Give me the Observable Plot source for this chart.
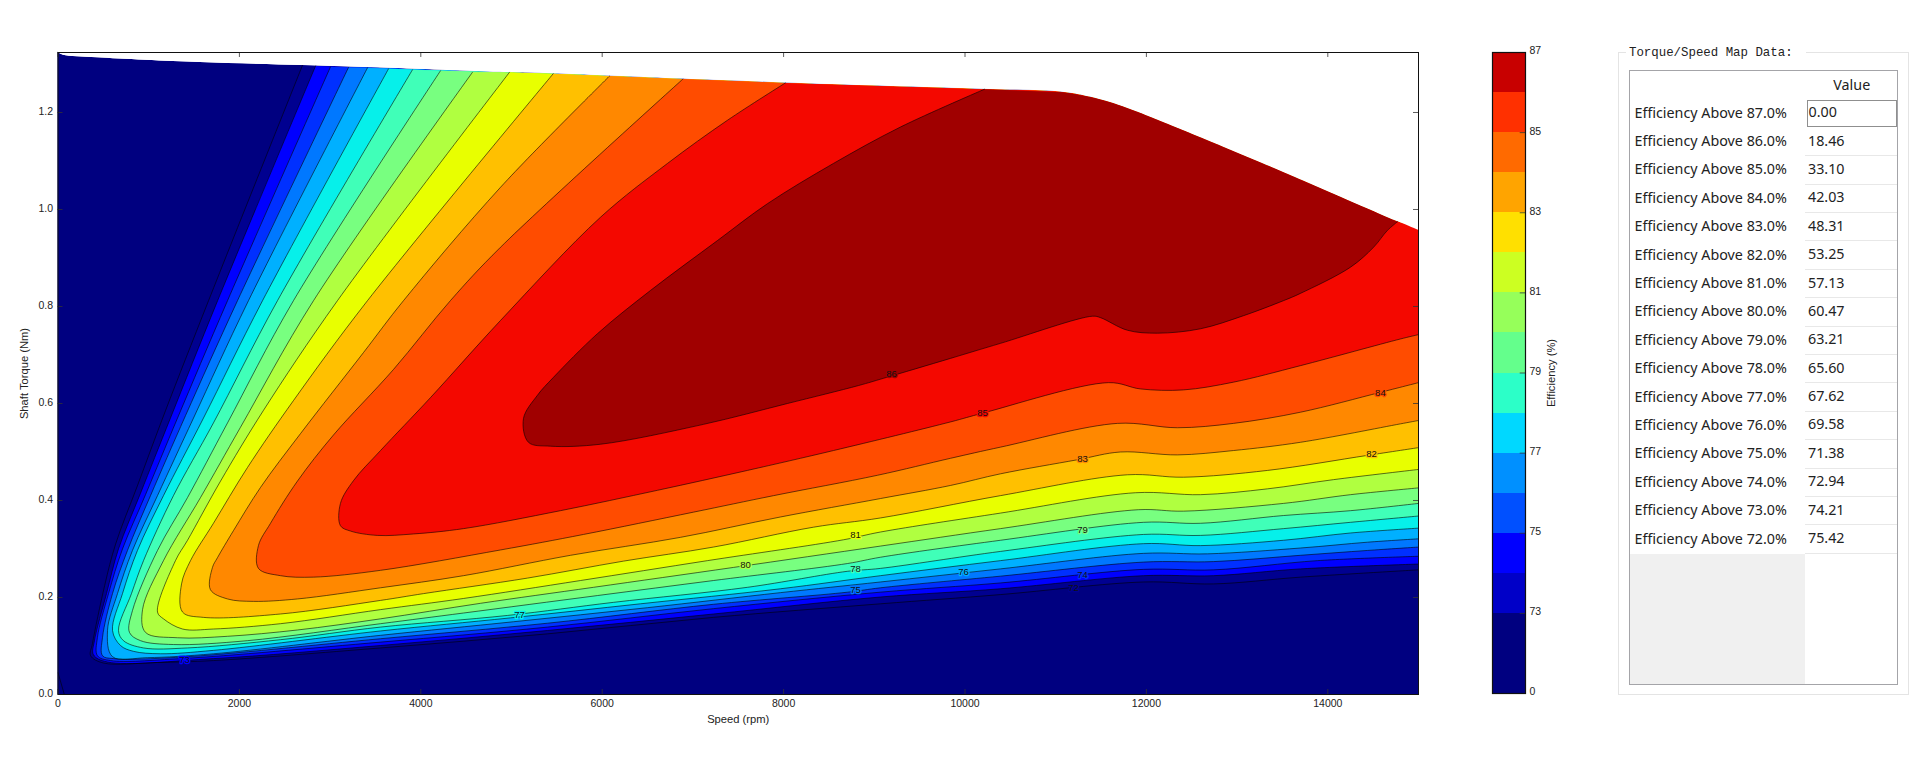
<!DOCTYPE html>
<html>
<head>
<meta charset="utf-8">
<script src="https://cdn.jsdelivr.net/npm/d3@7"></script>
<script src="https://cdn.jsdelivr.net/npm/@observablehq/plot@0.6"></script>
<style>
html,body{margin:0;padding:0;background:#fff;width:1920px;height:760px;overflow:hidden}
#map,#bar{position:absolute;top:0}
#map{left:0}
#bar{left:1440px}
#group{position:absolute;left:1618px;top:52px;width:289px;height:641px;border:1px solid #e4e4e4;box-sizing:content-box}
#grouptitle{position:absolute;left:7px;top:-9px;background:#fff;padding:0 13px 0 3px;font:12.4px/18px "Liberation Mono",monospace;color:#222;white-space:pre}
#table{position:absolute;left:9.5px;top:17px;width:267px;height:613px;border:1.5px solid #a4a4a8;display:grid;grid-template-columns:175.5px 1fr;grid-template-rows:28.5px repeat(16,28.4px) 1fr;font:14.3px "Noto Sans",sans-serif;color:#222}
#table div{box-sizing:border-box;display:flex;align-items:center}
.hd{justify-content:center;padding-bottom:2px;padding-left:2px}
.rn{padding-left:5px;padding-bottom:3px}
.val{padding-left:3px;padding-bottom:3px;border-bottom:1.5px solid #e8e8e8}
.sel{border:1.5px solid #8f8f8f !important;margin:0 0 1px 1.5px;padding-left:1px}
.empty{background:#f0f0f0}
</style>
</head>
<body>
<div id="map"></div>
<div id="bar"></div>
<div id="group">
  <div id="grouptitle">Torque/Speed Map Data:</div>
  <div id="table"></div>
</div>
<script>
// ---------- chart values (speed rpm, torque Nm) ----------
const envelope = [[0,1.324],[60,1.318],[435,1.313],[1570,1.303],[2695,1.297],[3410,1.293],[4880,1.283],[5460,1.280],[6890,1.269],[8020,1.261],[10215,1.248],[11085,1.242],[11385,1.232],[11600,1.221],[12000,1.194],[12410,1.163],[13510,1.077],[14770,.975],[15000,.957]];

const c72 = [[2695,1.297],[1660,.812],[1185,.585],[875,.430],[635,.310],[515,.225],[380,.105],[360,.080],[500,.065],[1095,.066],[1715,.070],[3555,.096],[5395,.125],[7225,.159],[9070,.187],[10390,.206],[11970,.232],[12740,.228],[13700,.242],[15000,.257]];
const c73 = [[2840,1.296],[1760,.812],[1240,.570],[910,.415],[667,.300],[535,.208],[402,.111],[391,.082],[546,.067],[1714,.074],[3556,.101],[5397,.132],[7227,.166],[9068,.201],[10391,.218],[11968,.245],[12739,.245],[13698,.259],[15000,.269]];
const c74 = [[3004,1.294],[1869,.812],[1318,.570],[965,.412],[711,.300],[557,.208],[435,.118],[435,.080],[579,.070],[1351,.074],[3556,.108],[5397,.139],[7227,.177],[9068,.211],[10391,.230],[11968,.258],[12739,.257],[13886,.276],[15000,.285]];
const c75 = [[3203,1.293],[1979,.812],[1406,.575],[1020,.410],[766,.297],[601,.208],[491,.118],[491,.080],[612,.074],[1351,.077],[3556,.115],[5397,.147],[7227,.186],[8707,.211],[9068,.220],[10391,.244],[11968,.273],[12739,.274],[13698,.287],[14436,.297],[15000,.304]];
const c76 = [[3412,1.292],[2100,.812],[1494,.570],[1097,.410],[821,.297],[656,.208],[546,.132],[601,.078],[987,.076],[1714,.084],[3556,.122],[5022,.150],[6499,.179],[7965,.210],[9068,.232],[10391,.259],[11968,.291],[12673,.290],[13698,.302],[14436,.314],[15000,.321]];
const c77 = [[3644,1.290],[2255,.812],[1604,.570],[1163,.410],[876,.297],[711,.208],[601,.132],[689,.101],[832,.089],[1130,.084],[1714,.091],[3556,.131],[4989,.158],[6422,.187],[7965,.218],[9068,.245],[10391,.276],[11968,.311],[12596,.307],[13511,.318],[14250,.333],[15000,.343]];
const c78 = [[3908,1.288],[2420,.812],[1714,.560],[1273,.410],[943,.276],[810,.208],[667,.132],[722,.111],[943,.096],[1428,.096],[2453,.113],[3556,.139],[4956,.163],[6124,.190],[7601,.221],[8703,.254],[9068,.260],[10391,.295],[11968,.330],[12596,.328],[13511,.342],[14250,.355],[15000,.368]];
const c79 = [[4217,1.286],[2596,.812],[1869,.560],[1428,.406],[1097,.297],[821,.173],[788,.128],[910,.111],[1273,.103],[2089,.111],[3556,.146],[4471,.168],[5948,.204],[7227,.235],[8703,.270],[9068,.283],[10391,.318],[11968,.355],[12596,.353],[13511,.369],[14250,.379],[15000,.394]];
const c80 = [[4570,1.283],[2817,.812],[2012,.551],[1571,.406],[1163,.276],[932,.175],[965,.128],[1318,.117],[1869,.120],[2640,.133],[3556,.156],[4658,.188],[5904,.221],[7447,.262],[9068,.306],[10391,.342],[11912,.381],[12408,.378],[13511,.394],[14250,.412],[15000,.426]];
const c81 = [[4978,1.283],[3081,.812],[2266,.586],[1792,.440],[1428,.318],[1295,.276],[1097,.170],[1163,.156],[1373,.135],[1714,.135],[2453,.146],[3556,.175],[4471,.198],[5761,.235],[7161,.276],[8660,.319],[9068,.335],[10391,.374],[11879,.416],[12596,.412],[13335,.424],[14063,.443],[15000,.464]];
const c82 = [[5460,1.280],[3412,.812],[2596,.606],[2089,.468],[1714,.353],[1461,.276],[1362,.228],[1373,.170],[1604,.159],[2453,.166],[3556,.194],[4030,.208],[5176,.240],[6235,.275],[7227,.304],[8330,.345],[9068,.364],[10391,.410],[11791,.453],[12408,.448],[13335,.462],[14436,.493],[15000,.509]];
const c83 = [[6080,1.275],[4880,1.046],[3809,.812],[3368,.705],[2674,.538],[2233,.427],[1935,.338],[1758,.282],[1703,.262],[1681,.216],[1869,.197],[2155,.192],[2640,.197],[3556,.220],[4471,.245],[5651,.287],[6863,.324],[7965,.366],[9068,.404],[9840,.431],[10391,.455],[11240,.484],[11714,.500],[12342,.494],[12960,.503],[13698,.520],[14800,.558],[15000,.565]];
const c84 = [[6890,1.269],[4878,.922],[4326,.812],[3698,.670],[3037,.535],[2640,.440],[2343,.353],[2210,.307],[2210,.260],[2453,.245],[2817,.242],[3556,.256],[4878,.298],[5794,.330],[7007,.376],[7889,.410],[9035,.452],[9840,.487],[10391,.510],[11681,.559],[12342,.550],[12960,.559],[13698,.582],[14580,.623],[15000,.643]];
const c85 = [[8020,1.261],[7381,1.184],[6720,1.095],[5981,.984],[4878,.771],[4106,.612],[3556,.503],[3258,.441],[3114,.394],[3114,.348],[3225,.337],[3522,.328],[3919,.331],[4471,.342],[5540,.379],[6609,.421],[7601,.462],[8550,.503],[9840,.562],[10193,.580],[11582,.643],[11935,.630],[12408,.628],[12960,.644],[13698,.678],[14800,.733],[15000,.742]];
const c86 = [[10215,1.248],[9288,1.170],[8550,1.095],[7822,1.012],[7271,.936],[6532,.833],[5948,.744],[5463,.654],[5286,.617],[5132,.569],[5187,.520],[5430,.512],[5981,.516],[7117,.557],[8043,.600],[8826,.637],[9102,.652],[9840,.693],[10391,.724],[11406,.780],[11494,.777],[11791,.751],[12122,.745],[12596,.754],[13070,.781],[13511,.812],[13698,.827],[14250,.881],[14504,.922],[14658,.957],[14770,.975]];
const cZero = [[0,.045],[70,0]];

const contours = [c72,c73,c74,c75,c76,c77,c78,c79,c80,c81,c82,c83,c84,c85,c86];
const mapColors = ["#000090","#0000ff","#0030ff","#0078ff","#00b0ff","#06f0ea","#40ffb8","#78ff80","#b0ff40","#e8ff00","#ffc000","#ff8800","#ff4c00","#f40800","#a00000"];
const baseColor = "#000080";

const labelLevels = [86,85,84,83,82,81,80,79,78,77,76,75,74,73,72];
const labelSpeeds = [9190,10193,14580,11295,14482,8793,7580,11295,8793,5088,9983,8793,11295,1395,11196];
const labelTorques = [.660,.580,.622,.485,.496,.328,.267,.340,.259,.163,.252,.216,.247,.072,.220];

const xTicks = [0,2000,4000,6000,8000,10000,12000,14000];
const yTicks = [0,.2,.4,.6,.8,1.0,1.2];

const barLevels = [0,72,73,74,75,76,77,78,79,80,81,82,83,84,85,86,87];
const barColors = ["#000080","#000080","#0000c8","#0000ff","#0050ff","#0090ff","#00d8ff","#2cffc8","#64ff8c","#96ff5a","#ccff22","#ffe000","#ffa400","#ff6a00","#ff3000","#c80000"];
const barTickLevels = [0,73,75,77,79,81,83,85,87];

const tableLevels = [87,86,85,84,83,82,81,80,79,78,77,76,75,74,73,72];
const tableValues = [0.00,18.46,33.10,42.03,48.31,53.25,57.13,60.47,63.21,65.60,67.62,69.58,71.38,72.94,74.21,75.42];

// ---------- map ----------
const sx = d => d[0], ty = d => d[1];
// Repeating the last contour point keeps the smooth curve from bending towards the closing edge.
const regionOf = c => {
  const a = c[0][0], last = c[c.length-1], b = last[0];
  return [...c, last, ...envelope.filter(e => e[0] > a && e[0] <= b).reverse()];
};
const SANS = '"Liberation Sans",Arial,sans-serif';
const fontStyle = {fontFamily:SANS,fontSize:"10.5px",color:"#222",background:"transparent"};
const labelHalo = l => mapColors[Math.min(l-72, mapColors.length-1)];
const tickX = 55, tickY = .0103, yTop = 1.3237;
const smooth = "catmull-rom";

const map = Plot.plot({
  width:1450, height:760,
  marginLeft:57.5, marginRight:32, marginTop:52, marginBottom:66,
  x:{domain:[0,15000]}, y:{domain:[0,yTop]},
  style:fontStyle,
  marks:[
    Plot.area(envelope,{x1:sx,y1:()=>0,y2:ty,curve:smooth,fill:baseColor}),
    ...contours.map((c,i)=>Plot.line(regionOf(c),{x:sx,y:ty,curve:smooth,fill:mapColors[i],stroke:"none",clip:true})),
    Plot.area(envelope,{x1:sx,y1:ty,y2:()=>yTop,curve:smooth,fill:"#fff"}),
    ...[cZero,...contours].map(c=>Plot.line(c,{x:sx,y:ty,curve:smooth,stroke:"#000",strokeWidth:.8,strokeOpacity:.72,clip:true})),
    Plot.text(labelLevels,{
      x:(d,i)=>labelSpeeds[i], y:(d,i)=>labelTorques[i], text:d=>String(d),
      fill:"#111", stroke:d=>labelHalo(d), strokeWidth:2.5, paintOrder:"stroke", fontSize:9.5,
      fontFamily:SANS
    }),
    Plot.ruleX(xTicks,{x:d=>d,y1:()=>0,y2:()=>tickY,stroke:"#333",strokeWidth:.8}),
    Plot.ruleX(xTicks,{x:d=>d,y1:()=>yTop,y2:()=>yTop-tickY,stroke:"#333",strokeWidth:.8}),
    Plot.ruleY(yTicks,{y:d=>d,x1:()=>0,x2:()=>tickX,stroke:"#333",strokeWidth:.8}),
    Plot.ruleY(yTicks,{y:d=>d,x1:()=>15000,x2:()=>15000-tickX,stroke:"#333",strokeWidth:.8}),
    Plot.axisX({ticks:xTicks,tickSize:0,tickPadding:5,tickFormat:d=>String(d),label:null}),
    Plot.axisY({ticks:yTicks,tickSize:0,tickPadding:5,tickFormat:d3.format(".1f"),label:null,dy:-1}),
    Plot.text(["Speed (rpm)"],{frameAnchor:"bottom",dy:28,text:d=>d,fontSize:11.2}),
    Plot.text(["Shaft Torque (Nm)"],{frameAnchor:"left",dx:-34,rotate:-90,textAnchor:"middle",text:d=>d,fontSize:11.2}),
    Plot.frame({stroke:"#111",strokeWidth:1})
  ]
});
document.getElementById("map").append(map);

// ---------- colour bar ----------
const tickIndex = barTickLevels.map(l=>barLevels.indexOf(l));
const bar = Plot.plot({
  width:160, height:760,
  marginLeft:52, marginRight:75, marginTop:52, marginBottom:67,
  x:{domain:[0,1],axis:null}, y:{domain:[0,16]},
  style:fontStyle,
  marks:[
    Plot.rect(barColors,{x1:()=>0,x2:()=>1,y1:(d,i)=>i,y2:(d,i)=>i+1,fill:d=>d,shapeRendering:"crispEdges"}),
    Plot.ruleY(tickIndex,{y:d=>d,x1:()=>.84,x2:()=>1,stroke:"#333",strokeWidth:.8}),
    Plot.axisY({anchor:"right",ticks:tickIndex,tickSize:0,tickPadding:4,tickFormat:i=>String(barLevels[i]),label:null,dy:-1.5}),
    Plot.text(["Efficiency (%)"],{frameAnchor:"right",dx:26,rotate:-90,textAnchor:"middle",text:d=>d,fontSize:11.2}),
    Plot.frame({stroke:"#111",strokeWidth:1.2})
  ]
});
document.getElementById("bar").append(bar);

// ---------- table ----------
const table = document.getElementById("table");
const cell = (cls,txt)=>{const d=document.createElement("div");d.className=cls;d.textContent=txt;table.append(d);};
cell("","");
cell("hd","Value");
tableLevels.forEach((l,i)=>{
  cell("rn",`Efficiency Above ${l.toFixed(1)}%`);
  cell(i===0?"val sel":"val",tableValues[i].toFixed(2));
});
cell("empty","");
cell("","");
</script>
</body>
</html>
